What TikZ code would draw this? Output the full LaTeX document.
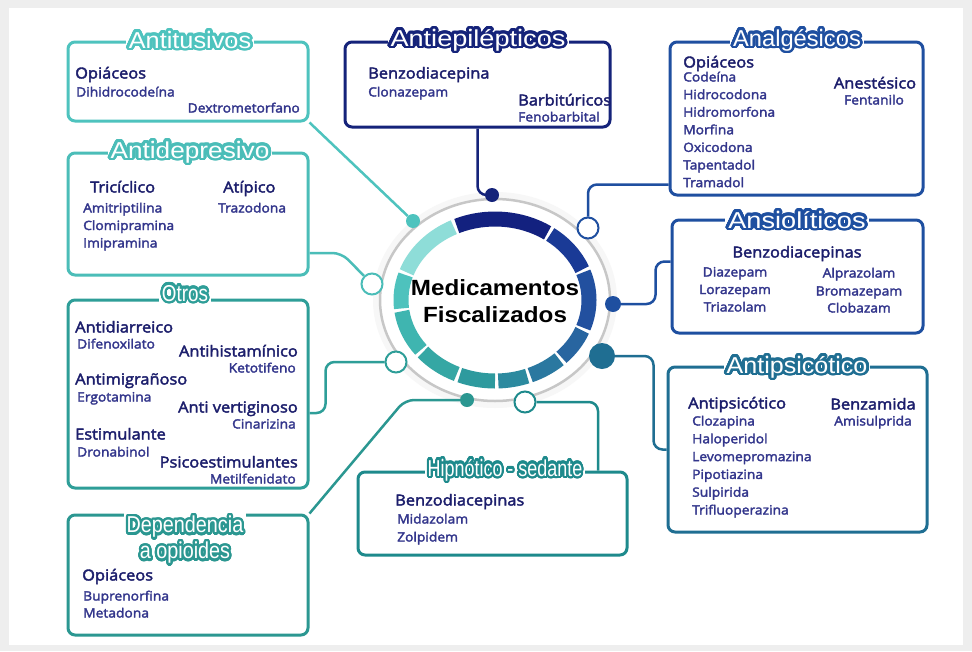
\documentclass[tikz,border=0pt]{standalone}
\usepackage{fontspec}
\usepackage{graphicx}
\usepackage{contour}
\usepackage{tikz}
\setmainfont{Open Sans}[FakeStretch=1.08, FakeBold=2.5]
\newfontfamily\ttlfont{Liberation Sans}
\newfontfamily\cenfont{Liberation Sans}[FakeStretch=1.1]
\usetikzlibrary{calc,positioning}
\contourlength{2.6pt}
\contournumber{32}

\definecolor{bgc}{HTML}{EEEEEE}
\definecolor{hdc}{HTML}{1C1E6C}
\definecolor{itc}{HTML}{33368C}
\definecolor{tusc}{HTML}{4EC3BE}
\definecolor{depc}{HTML}{4BBDB8}
\definecolor{otrc}{HTML}{2E9E98}
\definecolor{dpoc}{HTML}{2B9791}
\definecolor{hipc}{HTML}{1E8A8C}
\definecolor{apcc}{HTML}{1F6E92}
\definecolor{ansc}{HTML}{1E4FA0}
\definecolor{anac}{HTML}{1F4FA0}
\definecolor{epic}{HTML}{15237A}
\definecolor{sg1}{HTML}{13217F}
\definecolor{sg2}{HTML}{1A3A96}
\definecolor{sg3}{HTML}{22509F}
\definecolor{sg4}{HTML}{2865A0}
\definecolor{sg5}{HTML}{2A78A0}
\definecolor{sg6}{HTML}{2C8A9F}
\definecolor{sg7}{HTML}{2E9A9E}
\definecolor{sg8}{HTML}{35A7A4}
\definecolor{sg9}{HTML}{3FB5B0}
\definecolor{sg10}{HTML}{4EC2BD}
\definecolor{sg11}{HTML}{8EDDD8}

\newcommand{\ttltxt}[3]{\scalebox{#1}[1]{\contour{#2}{#3}}}

\tikzset{
  box/.style={draw=#1, line width=3pt, rounded corners=7pt, inner sep=0pt},
  ttl/.style={fill=white, inner sep=3pt, text=white, anchor=base, yshift=-8pt, font=\ttlfont\fontsize{23}{25}\selectfont},
  hd/.style={text=hdc, inner sep=0pt, anchor=base west, yshift=-5.5pt, font=\fontsize{15.2}{16}\selectfont},
  it/.style={text=itc, inner sep=0pt, anchor=base west, yshift=-4.5pt, font=\fontsize{12.8}{13}\selectfont},
  link/.style={draw=#1, line width=2.5pt, rounded corners=9pt},
  dotf/.style={circle, fill=#1, inner sep=0pt, minimum size=14pt},
  doto/.style={circle, draw=#1, fill=white, line width=2pt, inner sep=0pt, minimum size=21pt},
  seg/.style={line width=15pt}
}

\begin{document}
\begin{tikzpicture}[x=1pt, y=-1pt]
  \useasboundingbox (0,0) rectangle (972,651);
  \fill[bgc] (0,0) rectangle (972,651);
  \fill[white] (9,8) rectangle (963,645);

  % anillo central
  \coordinate (cen) at (495,300);
  \draw[black!3, line width=6pt] (cen) ellipse [x radius=119pt, y radius=105pt];
  \draw[black!22, line width=2.5pt] (cen) ellipse [x radius=115pt, y radius=101pt];
  \foreach \s/\e/\c in {114/56/sg1, 54/22/sg2, 20/-20/sg3, -22/-45/sg4, -47/-68/sg5, -70/-88/sg6,
      -90/-112/sg7, -114/-140/sg8, -142/-172/sg9, -174/-198/sg10, 160/116/sg11}
    \draw[seg, \c] ($(cen)+(\s:94pt and 81pt)$) arc[start angle=\s, end angle=\e, x radius=94pt, y radius=81pt];
  \node[font=\cenfont\bfseries\fontsize{22}{27}\selectfont, align=center] (cent) at (495,301) {Medicamentos\\Fiscalizados};

  % puntos
  \node[dotf=tusc] (d1) at (413,221) {};
  \node[doto=depc] (d2) at (372,284) {};
  \node[doto=otrc] (d3) at (396,362) {};
  \node[dotf=dpoc] (d4) at (467,400) {};
  \node[doto=hipc] (d5) at (525,402) {};
  \node[dotf=apcc, minimum size=26pt] (d6) at (602,356) {};
  \node[dotf=ansc, minimum size=16pt] (d7) at (613,304) {};
  \node[doto=anac] (d8) at (588,228) {};
  \node[dotf=epic] (d9) at (492,195) {};

  % cajas
  \node[box=tusc, minimum width=240pt, minimum height=79pt] (tus) at (188,81.5) {};
  \node[box=depc, minimum width=240pt, minimum height=122pt] (dep) at (188,214) {};
  \node[box=otrc, minimum width=240pt, minimum height=188pt] (otr) at (188,394) {};
  \node[box=dpoc, minimum width=240pt, minimum height=120pt] (dpo) at (188,575) {};
  \node[box=epic, minimum width=265pt, minimum height=85pt] (epi) at (477.5,84.5) {};
  \node[box=anac, minimum width=253pt, minimum height=153pt] (ana) at (796.5,118.5) {};
  \node[box=ansc, minimum width=251pt, minimum height=113pt] (ans) at (797.5,276.5) {};
  \node[box=apcc, minimum width=259pt, minimum height=165pt] (apc) at (797.5,449.5) {};
  \node[box=hipc, minimum width=269pt, minimum height=83pt] (hip) at (492.5,513.5) {};

  % conectores
  \draw[link=tusc] (tus.south east) -- (d1);
  \draw[link=depc] ($(dep.east)+(0,39)$) -- ++(32,0) -- (d2);
  \draw[link=otrc] ($(otr.east)+(0,19)$) -- ++(16,0) |- (d3);
  \draw[link=dpoc] (dpo.north east) -- ($(d4)+(-62,0)$) -- (d4);
  \draw[link=hipc] (d5) -| ($(hip.north)+(105.5,0)$);
  \draw[link=apcc] (d6) -| ($(apc.west)+(-13,0)$) -- (apc.west);
  \draw[link=ansc] (d7) -| ($(ans.west)+(-15,-15)$) -- ($(ans.west)+(0,-15)$);
  \draw[link=anac] (d8) |- ($(ana.west)+(0,66)$);
  \draw[link=epic] (epi.south) |- (d9);

  % titulos
  \node[ttl] (tusT) at (190,40) {\ttltxt{1.1}{tusc}{Antitusivos}};
  \node[ttl] (depT) at (190,150) {\ttltxt{1.14}{depc}{Antidepresivo}};
  \node[ttl] (otrT) at (185,293) {\ttltxt{0.82}{otrc}{Otros}};
  \node[ttl, align=center, anchor=center, yshift=0pt, font=\ttlfont\fontsize{23}{26}\selectfont] (dpoT) at (185,533)
    {\ttltxt{0.86}{dpoc}{Dependencia}\\\ttltxt{0.86}{dpoc}{a opioides}};
  \node[ttl] (epiT) at (478,38) {\ttltxt{1.18}{epic}{Antiepilépticos}};
  \node[ttl] (anaT) at (797,38) {\ttltxt{1.03}{anac}{Analgésicos}};
  \node[ttl] (ansT) at (797,220) {\ttltxt{1.18}{ansc}{Ansiolíticos}};
  \node[ttl] (apcT) at (797,365) {\ttltxt{1.09}{apcc}{Antipsicótico}};
  \node[ttl] (hipT) at (505,468) {\ttltxt{0.78}{hipc}{Hipnótico - sedante}};

  % Antitusivos
  \node[hd] (tus1) at (75,73) {Opiáceos};
  \node[it] (tus2) at (76,92) {Dihidrocodeína};
  \node[it, anchor=base east] (tus3) at (300,108) {Dextrometorfano};

  % Antidepresivo
  \node[hd] (dep1) at (90,187) {Tricíclico};
  \foreach \n [count=\i] in {Amitriptilina,Clomipramina,Imipramina}
    \node[it] (depa\i) at (83,{190.5+17.5*\i}) {\n};
  \node[hd] (dep2) at (223,187) {Atípico};
  \node[it] (depb1) at (218,208) {Trazodona};

  % Otros
  \node[hd] (otr1) at (75,327) {Antidiarreico};
  \node[it] (otr2) at (77,344) {Difenoxilato};
  \node[hd, anchor=base east] (otr3) at (298,351) {Antihistamínico};
  \node[it, anchor=base east] (otr4) at (296,368) {Ketotifeno};
  \node[hd] (otr5) at (75,379) {Antimigrañoso};
  \node[it] (otr6) at (77,397) {Ergotamina};
  \node[hd, anchor=base east] (otr7) at (298,407) {Anti vertiginoso};
  \node[it, anchor=base east] (otr8) at (296,424) {Cinarizina};
  \node[hd] (otr9) at (75,434) {Estimulante};
  \node[it] (otr10) at (77,452) {Dronabinol};
  \node[hd, anchor=base east] (otr11) at (298,462) {Psicoestimulantes};
  \node[it, anchor=base east] (otr12) at (296,479) {Metilfenidato};

  % Dependencia a opioides
  \node[hd] (dpo1) at (82,575) {Opiáceos};
  \node[it] (dpo2) at (83,596) {Buprenorfina};
  \node[it] (dpo3) at (83,613) {Metadona};

  % Antiepilepticos
  \node[hd] (epi1) at (368,73) {Benzodiacepina};
  \node[it] (epi2) at (368,92) {Clonazepam};
  \node[hd] (epi3) at (518,100) {Barbitúricos};
  \node[it] (epi4) at (518,117) {Fenobarbital};

  % Analgesicos
  \node[hd] (ana0) at (683,62) {Opiáceos};
  \foreach \n [count=\i] in {Codeína,Hidrocodona,Hidromorfona,Morfina,Oxicodona,Tapentadol,Tramadol}
    \node[it] (ana\i) at (683,{59.4+17.6*\i}) {\n};
  \node[hd, anchor=base] (anaa) at (875,83) {Anestésico};
  \node[it, anchor=base] (anab) at (874,100) {Fentanilo};

  % Ansioliticos
  \node[hd, anchor=base] (ans0) at (797,252) {Benzodiacepinas};
  \foreach \n/\y [count=\i] in {Diazepam/272,Lorazepam/289.5,Triazolam/307}
    \node[it, anchor=base] (ansl\i) at (735,\y) {\n};
  \foreach \n/\y [count=\i] in {Alprazolam/273,Bromazepam/291,Clobazam/308}
    \node[it, anchor=base] (ansr\i) at (859,\y) {\n};

  % Antipsicotico
  \node[hd] (apc0) at (688,403) {Antipsicótico};
  \foreach \n [count=\i] in {Clozapina,Haloperidol,Levomepromazina,Pipotiazina,Sulpirida,Trifluoperazina}
    \node[it] (apc\i) at (692,{403.2+17.8*\i}) {\n};
  \node[hd, anchor=base] (apca) at (873,404) {Benzamida};
  \node[it, anchor=base] (apcb) at (873,421) {Amisulprida};

  % Hipnotico - sedante
  \node[hd] (hip1) at (395,500) {Benzodiacepinas};
  \node[it] (hip2) at (397,519) {Midazolam};
  \node[it] (hip3) at (397,537) {Zolpidem};
\end{tikzpicture}
\end{document}
